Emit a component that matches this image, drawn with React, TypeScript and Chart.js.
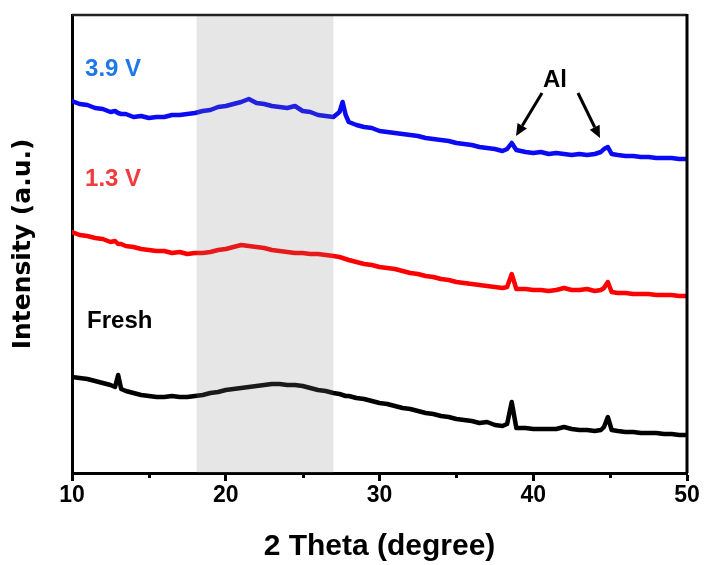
import React, { useEffect, useRef } from "react";
import { Chart, registerables } from "chart.js";

Chart.register(...registerables);

// 2θ positions (degree)
const angles = [
  10.0, 10.5, 11.0, 11.5, 12.0, 12.5, 12.8, 13.0, 13.2, 13.5,
  14.0, 14.5, 15.0, 15.5, 16.0, 16.5, 17.0, 17.5, 18.0, 18.5,
  19.0, 19.5, 20.0, 20.5, 21.0, 21.5, 22.0, 22.5, 23.0, 23.5,
  24.0, 24.5, 25.0, 25.5, 26.0, 26.5, 27.0, 27.4, 27.6, 27.8,
  28.0, 28.5, 29.0, 29.5, 30.0, 30.5, 31.0, 31.5, 32.0, 32.5,
  33.0, 33.5, 34.0, 34.5, 35.0, 35.5, 36.0, 36.5, 37.0, 37.5,
  38.0, 38.3, 38.6, 38.9, 39.5, 40.0, 40.5, 41.0, 41.5, 42.0,
  42.5, 43.0, 43.5, 44.0, 44.4, 44.6, 44.85, 45.1, 45.5, 46.0,
  46.5, 47.0, 47.5, 48.0, 48.5, 49.0, 49.5, 50.0,
];

// Intensity (a.u., stacked offsets)
const fresh = [
  96, 95, 94, 92, 90, 88, 86, 98, 84, 82,
  80, 78, 77, 76, 76, 77, 76, 76, 77, 78,
  80, 81, 83, 84, 85, 86, 87, 88, 89, 89,
  88, 88, 87, 85, 83, 82, 80, 79, 78, 77,
  77, 75, 74, 72, 70, 69, 67, 65, 64, 62,
  60, 59, 57, 56, 54, 53, 52, 50, 51, 48,
  47, 49, 71, 45, 45, 44, 44, 44, 44, 46,
  44, 43, 43, 42, 43, 46, 56, 43, 42, 41,
  41, 40, 40, 40, 39, 39, 38, 38,
];

const v13 = [
  241, 238, 237, 235, 234, 231, 232, 229, 229, 227,
  226, 224, 223, 222, 222, 220, 221, 219, 220, 220,
  221, 223, 224, 226, 228, 227, 226, 225, 223, 222,
  221, 220, 220, 219, 219, 218, 217, 216, 215, 214,
  213, 211, 209, 208, 206, 205, 204, 202, 200, 199,
  197, 196, 194, 193, 191, 190, 189, 188, 187, 186,
  185, 186, 199, 184, 184, 183, 183, 182, 183, 185,
  183, 183, 184, 182, 183, 185, 191, 181, 180, 180,
  179, 179, 179, 178, 178, 178, 177, 177,
];

const v39 = [
  372, 369, 368, 365, 364, 361, 362, 360, 359, 359,
  356, 357, 355, 356, 356, 358, 358, 359, 360, 362,
  363, 366, 367, 369, 371, 374, 370, 369, 367, 366,
  365, 367, 362, 361, 358, 357, 356, 361, 371, 358,
  351, 348, 346, 345, 342, 341, 340, 339, 338, 337,
  335, 334, 333, 332, 330, 329, 328, 326, 325, 324,
  322, 324, 330, 323, 321, 320, 321, 319, 320, 319,
  318, 319, 318, 319, 321, 324, 326, 319, 318, 317,
  317, 316, 316, 315, 315, 315, 314, 314,
];

const seriesNames = ["Fresh", "1.3 V", "3.9 V"];
const xMajorTicks = [10, 20, 30, 40, 50];
const xMinorTicks = [15, 25, 35, 45];
const amorphousBand = [18.1, 27.0];
const peakName = "Al";

const LABEL_FONT = 'bold 24px "Liberation Sans", Arial, sans-serif';

function drawArrow(ctx: CanvasRenderingContext2D, x0: number, y0: number, x1: number, y1: number) {
  const ang = Math.atan2(y1 - y0, x1 - x0);
  const head = 12;
  const half = 5.5;
  const bx = x1 - head * Math.cos(ang);
  const by = y1 - head * Math.sin(ang);
  ctx.strokeStyle = "#000";
  ctx.fillStyle = "#000";
  ctx.lineWidth = 3;
  ctx.beginPath();
  ctx.moveTo(x0, y0);
  ctx.lineTo(bx, by);
  ctx.stroke();
  ctx.beginPath();
  ctx.moveTo(x1, y1);
  ctx.lineTo(bx + half * Math.sin(ang), by - half * Math.cos(ang));
  ctx.lineTo(bx - half * Math.sin(ang), by + half * Math.cos(ang));
  ctx.closePath();
  ctx.fill();
}

const overlay = {
  id: "overlay",
  afterDatasetsDraw(chart: any) {
    const { ctx, chartArea: a, scales } = chart;
    const x = scales.x;
    const y = scales.y;
    ctx.save();
    // amorphous region band (translucent grey over the traces)
    const bx0 = x.getPixelForValue(amorphousBand[0]);
    const bx1 = x.getPixelForValue(amorphousBand[1]);
    ctx.fillStyle = "rgba(128,128,128,0.2)";
    ctx.fillRect(bx0, a.top, bx1 - bx0, a.bottom - a.top);

    // series labels
    ctx.font = LABEL_FONT;
    ctx.textAlign = "left";
    ctx.textBaseline = "middle";
    const labelSpots = [
      { text: seriesNames[2], x: 10.85, y: 404, color: "#1f78e6" },
      { text: seriesNames[1], x: 10.85, y: 294, color: "#f03c3c" },
      { text: seriesNames[0], x: 10.98, y: 151.5, color: "#000000" },
    ];
    for (const l of labelSpots) {
      ctx.fillStyle = l.color;
      ctx.fillText(l.text, x.getPixelForValue(l.x), y.getPixelForValue(l.y));
    }

    // Al annotation
    ctx.fillStyle = "#000";
    ctx.textAlign = "center";
    ctx.fillText(peakName, x.getPixelForValue(41.41), y.getPixelForValue(393));
    drawArrow(
      ctx,
      x.getPixelForValue(40.57), y.getPixelForValue(380),
      x.getPixelForValue(38.88), y.getPixelForValue(337)
    );
    drawArrow(
      ctx,
      x.getPixelForValue(42.91), y.getPixelForValue(380),
      x.getPixelForValue(44.34), y.getPixelForValue(335)
    );
    ctx.restore();
  },
  afterDraw(chart: any) {
    const { ctx, chartArea: a, scales } = chart;
    const x = scales.x;
    ctx.save();
    // minor ticks
    ctx.strokeStyle = "#000";
    ctx.lineWidth = 3;
    for (const v of xMinorTicks) {
      const px = Math.round(x.getPixelForValue(v)) + 0.5;
      ctx.beginPath();
      ctx.moveTo(px, a.bottom);
      ctx.lineTo(px, a.bottom + 5);
      ctx.stroke();
    }
    // top and right frame
    ctx.strokeStyle = "#222";
    ctx.lineWidth = 2.5;
    ctx.beginPath();
    ctx.moveTo(a.left, a.top);
    ctx.lineTo(a.right, a.top);
    ctx.stroke();
    ctx.strokeStyle = "#000";
    ctx.lineWidth = 3;
    ctx.beginPath();
    ctx.moveTo(a.right, a.top - 1);
    ctx.lineTo(a.right, a.bottom);
    ctx.stroke();
    ctx.restore();
  },
};

export default function App() {
  const ref = useRef<HTMLCanvasElement | null>(null);

  useEffect(() => {
    if (!ref.current) return;
    const mk = (vals: number[]) => angles.map((a, i) => ({ x: a, y: vals[i] }));
    const chart = new Chart(ref.current, {
      type: "line",
      data: {
        datasets: [
          { label: seriesNames[0], data: mk(fresh), borderColor: "#000000" },
          { label: seriesNames[1], data: mk(v13), borderColor: "#ff0000" },
          { label: seriesNames[2], data: mk(v39), borderColor: "#0a0af5" },
        ].map((d) => ({
          ...d,
          borderWidth: 4.5,
          pointRadius: 0,
          tension: 0,
          fill: false,
          borderJoinStyle: "round" as const,
          borderCapStyle: "round" as const,
        })),
      },
      options: {
        responsive: false,
        animation: false,
        devicePixelRatio: 1,
        layout: { padding: { top: 15, right: 19, left: 0, bottom: 0 } },
        plugins: { legend: { display: false }, tooltip: { enabled: false } },
        scales: {
          x: {
            type: "linear",
            min: 10,
            max: 50,
            afterFit: (s: any) => {
              s.height = 92;
            },
            ticks: {
              stepSize: 5,
              autoSkip: false,
              maxRotation: 0,
              padding: 1,
              color: "#000",
              font: { family: '"Liberation Sans", Arial, sans-serif', size: 23, weight: "bold" },
              callback: (v: any) => (xMajorTicks.includes(Number(v)) ? String(v) : ""),
            },
            grid: {
              display: true,
              drawOnChartArea: false,
              drawTicks: true,
              tickLength: 8,
              tickWidth: 3,
              tickColor: (c: any) =>
                c.tick && xMajorTicks.includes(c.tick.value) ? "#000" : "rgba(0,0,0,0)",
            },
            border: { display: true, color: "#000", width: 3 },
            title: {
              display: true,
              text: "2 Theta (degree)",
              color: "#000",
              font: { family: '"Liberation Sans", Arial, sans-serif', size: 30, weight: "bold" },
              padding: { top: 0, bottom: 0 },
            },
          },
          y: {
            min: 0,
            max: 458,
            afterFit: (s: any) => {
              s.width = 72;
            },
            ticks: { display: false },
            grid: { display: false },
            border: { display: true, color: "#000", width: 3 },
            title: {
              display: true,
              text: "Intensity (a.u.)",
              color: "#000",
              font: { family: '"DejaVu Sans", sans-serif', size: 25, weight: "bold" },
              padding: { top: 8, bottom: 0 },
            },
          },
        },
      },
      plugins: [overlay],
    });
    return () => chart.destroy();
  }, []);

  return (
    <div style={{ position: "absolute", left: 0, top: 0, width: 706, height: 565, background: "#fff" }}>
      <canvas ref={ref} width={706} height={565} style={{ display: "block", width: 706, height: 565 }} />
    </div>
  );
}
